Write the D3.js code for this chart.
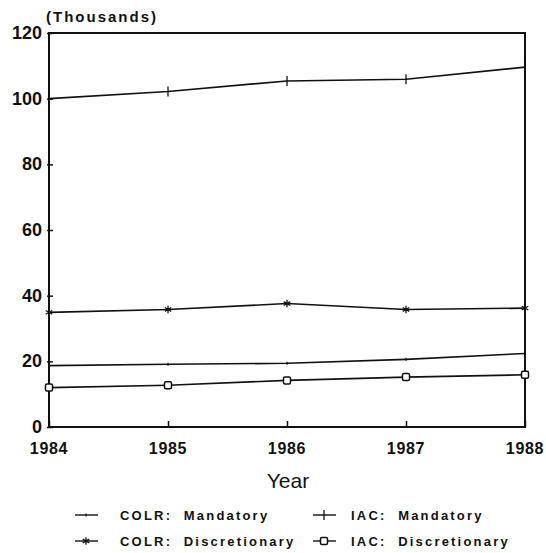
<!DOCTYPE html>
<html lang="en">
<head>
    <meta charset="UTF-8">
    <script src="https://cdn.jsdelivr.net/npm/d3@7"></script>
    <title>COLR / IAC 1984-1988</title>
    <style>
        body { margin: 0; background: white; }
        text { font-family: 'Liberation Sans', Arial, sans-serif; fill: #111; }
        .ytick-label { font-size: 18px; font-weight: bold; }
        .xtick-label { font-size: 16px; font-weight: bold; letter-spacing: 0.7px; }
        .legend-label { font-size: 13px; font-weight: bold; letter-spacing: 2.2px; }
    </style>
</head>
<body>
<div id="chart"></div>
<script>
    const years = [1984, 1985, 1986, 1987, 1988];
    const yTicks = [0, 20, 40, 60, 80, 100, 120];

    const colrMandatory = [18.7, 19.1, 19.4, 20.6, 22.4];
    const colrDiscretionary = [34.9, 35.8, 37.6, 35.8, 36.2];
    const iacMandatory = [100.0, 102.2, 105.4, 105.9, 109.6];
    const iacDiscretionary = [12.0, 12.7, 14.2, 15.2, 15.9];

    const seriesNames = ["COLR:  Mandatory", "IAC:  Mandatory", "COLR:  Discretionary", "IAC:  Discretionary"];
    const seriesValues = [colrMandatory, iacMandatory, colrDiscretionary, iacDiscretionary];
    const seriesMarkers = ["dot", "plus", "star", "square"];

    const width = 546, height = 553;
    const margin = {left: 49, right: 21, top: 33, bottom: 126};

    const svg = d3.select("#chart").append("svg")
        .attr("width", width)
        .attr("height", height);

    const x = d3.scaleLinear().domain([1984, 1988]).range([margin.left, width - margin.right]);
    const y = d3.scaleLinear().domain([0, 120]).range([height - margin.bottom, margin.top]);

    // frame
    svg.append("rect")
        .attr("x", x(1984)).attr("y", y(120))
        .attr("width", x(1988) - x(1984)).attr("height", y(0) - y(120))
        .attr("fill", "none").attr("stroke", "#111").attr("stroke-width", 2);

    // y axis: short ticks crossing the frame
    const yAxis = svg.append("g")
        .attr("transform", `translate(${x(1984) - 2},0)`)
        .call(d3.axisRight(y).tickValues(yTicks).tickSize(6).tickFormat(""));
    yAxis.select(".domain").remove();
    yAxis.selectAll("line").attr("stroke", "#111").attr("stroke-width", 1.5);

    svg.selectAll(".ylab")
        .data(yTicks)
        .enter().append("text")
        .attr("class", "ytick-label")
        .attr("x", x(1984) - 7)
        .attr("y", d => y(d) + 6)
        .attr("text-anchor", "end")
        .text(d => d);

    const xAxis = svg.append("g")
        .attr("transform", `translate(0,${y(0)})`)
        .call(d3.axisTop(x).tickValues(years).tickSize(6).tickFormat(""));
    xAxis.select(".domain").remove();
    xAxis.selectAll("line").attr("stroke", "#111").attr("stroke-width", 1.5);

    svg.selectAll(".xlab")
        .data(years)
        .enter().append("text")
        .attr("class", "xtick-label")
        .attr("x", d => x(d))
        .attr("y", y(0) + 27)
        .attr("text-anchor", "middle")
        .text(d => d);

    svg.append("text")
        .attr("x", 46).attr("y", 22)
        .style("font-size", "15px").style("font-weight", "bold").style("letter-spacing", "2px")
        .text("(Thousands)");

    svg.append("text")
        .attr("x", (x(1984) + x(1988)) / 2 + 1).attr("y", 488)
        .attr("text-anchor", "middle")
        .style("font-size", "21px")
        .text("Year");

    function drawMarker(g, type, cx, cy) {
        if (type === "dot") {
            g.append("line").attr("x1", cx).attr("x2", cx).attr("y1", cy - 1.5).attr("y2", cy + 1.5)
                .attr("stroke", "#111").attr("stroke-width", 1.2);
        } else if (type === "plus") {
            g.append("line").attr("x1", cx).attr("x2", cx).attr("y1", cy - 5).attr("y2", cy + 5)
                .attr("stroke", "#111").attr("stroke-width", 1.3);
        } else if (type === "star") {
            g.append("path")
                .attr("d", d3.symbol().type(d3.symbolAsterisk).size(40)())
                .attr("transform", `translate(${cx},${cy})`)
                .attr("fill", "none").attr("stroke", "#111").attr("stroke-width", 1.3);
        } else if (type === "square") {
            g.append("rect").attr("x", cx - 3.5).attr("y", cy - 3.5).attr("width", 7).attr("height", 7)
                .attr("rx", 1.5)
                .attr("fill", "white").attr("stroke", "#111").attr("stroke-width", 1.5);
        }
    }

    const line = d3.line()
        .x((d, i) => x(years[i]))
        .y(d => y(d));

    seriesValues.forEach((vals, s) => {
        const g = svg.append("g");
        g.append("path")
            .datum(vals)
            .attr("fill", "none")
            .attr("stroke", "#111")
            .attr("stroke-width", 1.6)
            .attr("d", line);
        vals.forEach((v, i) => drawMarker(g, seriesMarkers[s], x(years[i]), y(v)));
    });

    // legend, two columns
    const legendCols = [75, 313];
    const legendRows = [515, 541];
    seriesNames.forEach((name, s) => {
        const lx = legendCols[s % 2];
        const ly = legendRows[Math.floor(s / 2)];
        const g = svg.append("g");
        g.append("line").attr("x1", lx).attr("x2", lx + 23).attr("y1", ly).attr("y2", ly)
            .attr("stroke", "#111").attr("stroke-width", 1.4);
        drawMarker(g, seriesMarkers[s], lx + 11, ly);
        g.append("text")
            .attr("class", "legend-label")
            .attr("x", lx + (s % 2 === 0 ? 45 : 38))
            .attr("y", ly + 5)
            .attr("xml:space", "preserve")
            .style("white-space", "pre")
            .text(name);
    });
</script>
</body>
</html>
